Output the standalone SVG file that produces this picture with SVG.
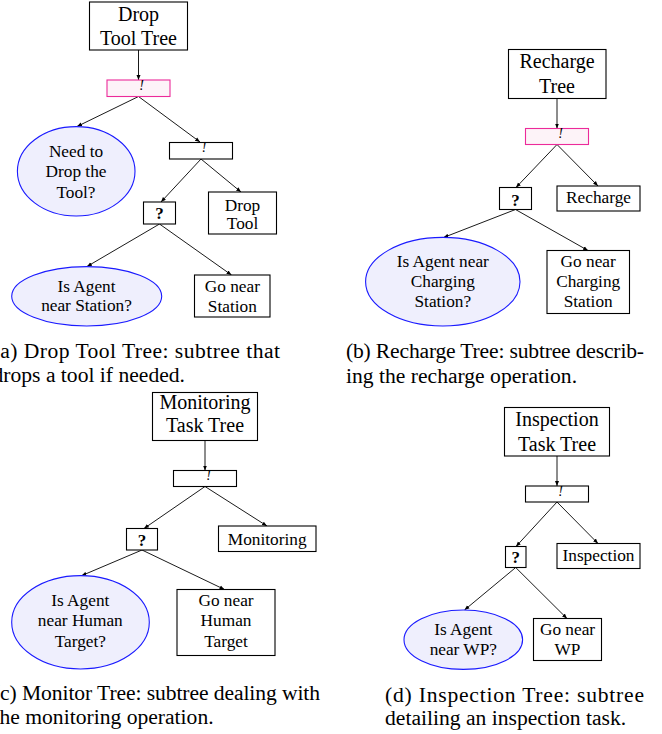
<svg xmlns="http://www.w3.org/2000/svg" width="662" height="734" viewBox="0 0 662 734">
<defs>
<marker id="ah" viewBox="0 0 10 10" refX="10" refY="5" markerWidth="5" markerHeight="5" orient="auto" markerUnits="userSpaceOnUse">
<path d="M0,1 L10,5 L0,9 z" fill="#000"/>
</marker>
<style>
text{font-family:"Liberation Serif","Times New Roman",serif;fill:#000;text-anchor:middle}
.root{font-size:20px}
.n{font-size:17.3px}
.cap{font-size:21.6px;text-anchor:start}
.q{font-size:17px;font-weight:bold}
.seq{font-size:14px;font-style:italic}
rect.b{stroke:#000;stroke-width:1.1;fill:#fff}
rect.pink{stroke:#ec2a9a;stroke-width:1.1;fill:#fdf3f8}
ellipse{stroke:#1a1aff;stroke-width:1.1;fill:#efeffd}
#edges line{stroke:#000;stroke-width:0.9;marker-end:url(#ah)}
</style>
</defs>
<rect x="0" y="0" width="662" height="734" fill="#fff"/>

<g id="edges">
<line x1="138.5" y1="50" x2="138.5" y2="80"/>
<line x1="138.5" y1="96.5" x2="77" y2="126.5"/>
<line x1="138.5" y1="96.5" x2="200" y2="142"/>
<line x1="201" y1="159" x2="161" y2="202"/>
<line x1="201" y1="159" x2="241" y2="192"/>
<line x1="159.5" y1="224" x2="87" y2="266.5"/>
<line x1="159.5" y1="224" x2="231.5" y2="275"/>
<line x1="557" y1="98.5" x2="557" y2="128.5"/>
<line x1="557" y1="144.5" x2="516" y2="187.5"/>
<line x1="557" y1="144.5" x2="598" y2="186"/>
<line x1="515.5" y1="209.5" x2="443.5" y2="237.5"/>
<line x1="515.5" y1="209.5" x2="588" y2="250.5"/>
<line x1="205" y1="440.5" x2="205" y2="470.5"/>
<line x1="205" y1="486.5" x2="144" y2="528.5"/>
<line x1="205" y1="486.5" x2="267" y2="526"/>
<line x1="142" y1="550" x2="81.5" y2="575.7"/>
<line x1="142" y1="550" x2="224.5" y2="589.5"/>
<line x1="557" y1="456" x2="557" y2="486"/>
<line x1="557" y1="502" x2="516" y2="546.5"/>
<line x1="557" y1="502" x2="598" y2="543.5"/>
<line x1="515.7" y1="567.5" x2="464.5" y2="610"/>
<line x1="515.7" y1="567.5" x2="567" y2="618.5"/>
</g>

<g id="a_root"><rect class="b" x="89.5" y="2" width="98" height="48"/><text class="root" x="138.5" y="20.5">Drop</text><text class="root" x="138.5" y="45">Tool Tree</text></g>
<g id="a_seq1"><rect class="pink" x="107" y="80" width="63" height="16.5"/><text class="seq" x="141.5" y="89.5">!</text></g>
<g id="a_need"><ellipse cx="76.2" cy="171.3" rx="58.8" ry="44.7"/><text class="n" x="76" y="157.3">Need to</text><text class="n" x="76" y="177.3">Drop the</text><text class="n" x="76" y="197.5">Tool?</text></g>
<g id="a_seq2"><rect class="b" x="169.5" y="142.5" width="63" height="16.5"/><text class="seq" x="204" y="152">!</text></g>
<g id="a_fb"><rect class="b" x="143.5" y="202" width="32" height="22"/><text class="q" x="159.5" y="218.5">?</text></g>
<g id="a_drop"><rect class="b" x="208.5" y="192" width="68" height="42"/><text class="n" x="242.5" y="210.7">Drop</text><text class="n" x="242.5" y="229">Tool</text></g>
<g id="a_is"><ellipse cx="86.7" cy="296.3" rx="75" ry="29.7"/><text class="n" x="86.5" y="291.7">Is Agent</text><text class="n" x="86.5" y="311">near Station?</text></g>
<g id="a_go"><rect class="b" x="194.5" y="275" width="75.5" height="42"/><text class="n" x="232.3" y="291.7">Go near</text><text class="n" x="232.3" y="311.5">Station</text></g>
<text class="cap" x="-7.5" y="358.3" textLength="287.5" lengthAdjust="spacing">(a) Drop Tool Tree: subtree that</text>
<text class="cap" x="-7.5" y="382.3">drops a tool if needed.</text>

<g id="b_root"><rect class="b" x="508.5" y="49.5" width="97.5" height="49"/><text class="root" x="557" y="68.3">Recharge</text><text class="root" x="557" y="92.7">Tree</text></g>
<g id="b_seq"><rect class="pink" x="525.5" y="128.5" width="63" height="16"/><text class="seq" x="560.5" y="138">!</text></g>
<g id="b_fb"><rect class="b" x="499.5" y="187.5" width="32" height="22"/><text class="q" x="515.5" y="205.5">?</text></g>
<g id="b_rech"><rect class="b" x="557" y="186" width="83" height="25"/><text class="n" x="598.5" y="203.3">Recharge</text></g>
<g id="b_is"><ellipse cx="442.8" cy="281.7" rx="77.2" ry="44.3"/><text class="n" x="442.8" y="266.7">Is Agent near</text><text class="n" x="442.8" y="287">Charging</text><text class="n" x="442.8" y="307.3">Station?</text></g>
<g id="b_go"><rect class="b" x="547" y="250.5" width="82.5" height="63"/><text class="n" x="588.2" y="266.7">Go near</text><text class="n" x="588.2" y="287">Charging</text><text class="n" x="588.2" y="307.3">Station</text></g>
<text class="cap" x="346" y="358.3" textLength="298" lengthAdjust="spacing">(b) Recharge Tree: subtree describ-</text>
<text class="cap" x="346" y="382.5">ing the recharge operation.</text>

<g id="c_root"><rect class="b" x="152.5" y="392.5" width="105" height="48"/><text class="root" x="205" y="409.3">Monitoring</text><text class="root" x="205" y="431.7">Task Tree</text></g>
<g id="c_seq"><rect class="b" x="173.5" y="470.5" width="63" height="16"/><text class="seq" x="208.5" y="480">!</text></g>
<g id="c_fb"><rect class="b" x="126.5" y="528.5" width="31" height="21.5"/><text class="q" x="142" y="546">?</text></g>
<g id="c_mon"><rect class="b" x="218.5" y="526" width="97.5" height="25.5"/><text class="n" x="267.2" y="545">Monitoring</text></g>
<g id="c_is"><ellipse cx="80.5" cy="622.3" rx="68.8" ry="46.7"/><text class="n" x="80.3" y="605.7">Is Agent</text><text class="n" x="80.3" y="626.3">near Human</text><text class="n" x="80.3" y="646.7">Target?</text></g>
<g id="c_go"><rect class="b" x="177" y="589.5" width="98" height="66"/><text class="n" x="226" y="605.7">Go near</text><text class="n" x="226" y="626.3">Human</text><text class="n" x="226" y="646.7">Target</text></g>
<text class="cap" x="-7" y="700" textLength="327" lengthAdjust="spacing">(c) Monitor Tree: subtree dealing with</text>
<text class="cap" x="-6.5" y="723.5">the monitoring operation.</text>

<g id="d_root"><rect class="b" x="504.5" y="407.5" width="105" height="48.5"/><text class="root" x="557" y="426">Inspection</text><text class="root" x="557" y="450.7">Task Tree</text></g>
<g id="d_seq"><rect class="b" x="525.5" y="486" width="63" height="16"/><text class="seq" x="560.5" y="495.5">!</text></g>
<g id="d_fb"><rect class="b" x="505.5" y="546.5" width="20.5" height="21"/><text class="q" x="515.7" y="562.7">?</text></g>
<g id="d_insp"><rect class="b" x="557" y="543.5" width="83" height="25"/><text class="n" x="598.5" y="560.7">Inspection</text></g>
<g id="d_is"><ellipse cx="463.3" cy="639.7" rx="59.3" ry="29.7"/><text class="n" x="463.3" y="635">Is Agent</text><text class="n" x="463.3" y="655">near WP?</text></g>
<g id="d_go"><rect class="b" x="533.5" y="618.5" width="68" height="42"/><text class="n" x="567.5" y="635">Go near</text><text class="n" x="567.5" y="655">WP</text></g>
<text class="cap" x="385" y="701.7" textLength="259" lengthAdjust="spacing">(d) Inspection Tree: subtree</text>
<text class="cap" x="385" y="725">detailing an inspection task.</text>
</svg>
